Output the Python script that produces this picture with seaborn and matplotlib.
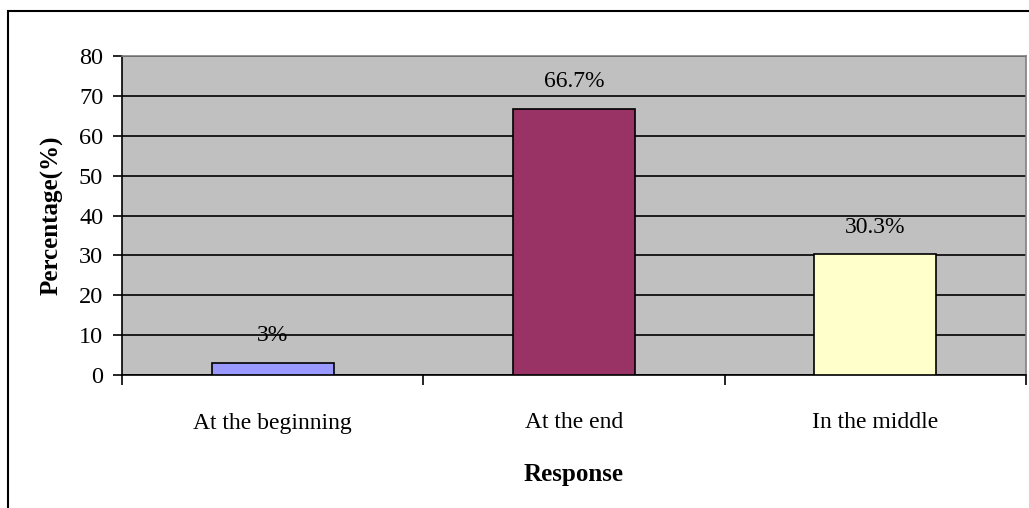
import matplotlib.pyplot as plt
import matplotlib.patches as mpatches
import pandas as pd
import seaborn as sns

categories = ["At the beginning", "At the end", "In the middle"]
percentages = [3.0, 66.7, 30.3]
value_labels = ["3%", "66.7%", "30.3%"]
bar_colors = ["#9999FF", "#993366", "#FFFFCC"]

df = pd.DataFrame({"Response": categories, "Percentage": percentages})

sns.set_theme(style="white", rc={
    "text.color": "black",
    "axes.labelcolor": "black",
    "xtick.color": "black",
    "ytick.color": "black",
})
plt.rcParams["font.family"] = ["Liberation Serif", "DejaVu Serif"]

fig = plt.figure(figsize=(10.29, 5.08), dpi=100)
ax = fig.add_axes([122 / 1029, 1 - 375 / 508, (1026 - 122) / 1029, (375 - 56) / 508])

sns.barplot(
    data=df,
    x="Response",
    y="Percentage",
    hue="Response",
    palette=bar_colors,
    saturation=1,
    width=0.405,
    edgecolor="black",
    linewidth=1.2,
    legend=False,
    ax=ax,
    zorder=3,
)

ax.set_facecolor("#C0C0C0")
ax.set_ylim(0, 80)
ax.set_xlim(-0.5, 2.5)
ax.set_yticks(range(0, 81, 10))
ax.yaxis.grid(True, color="black", linewidth=1.2, zorder=0)
ax.set_axisbelow(True)

for spine in ["top", "right"]:
    ax.spines[spine].set_color("#808080")
    ax.spines[spine].set_linewidth(1.2)
for spine in ["left", "bottom"]:
    ax.spines[spine].set_color("black")
    ax.spines[spine].set_linewidth(1.2)

# category ticks sit on the boundaries, labels in the centre
ax.set_xticks([-0.5, 0.5, 1.5, 2.5])
ax.set_xticklabels([])
ax.set_xticks([0, 1, 2], minor=True)
ax.set_xticklabels(categories, minor=True, fontsize=17)
ax.tick_params(axis="x", which="major", direction="out", length=7, width=1.2, color="black", bottom=True)
ax.tick_params(axis="x", which="minor", length=0, pad=27)
ax.tick_params(axis="y", direction="out", length=6.5, width=1.2, color="black", left=True, labelsize=17.5, pad=7)

for i, (v, lab) in enumerate(zip(percentages, value_labels)):
    ax.annotate(lab, (i, v), xytext=(0, 12), textcoords="offset points",
                ha="center", va="bottom", fontsize=17, color="black")

ax.set_xlabel("Response", fontsize=18, fontweight="bold", labelpad=21)
ax.set_ylabel("Percentage(%)", fontsize=18, fontweight="bold", labelpad=11)

# outer chart frame
fig.patches.append(mpatches.Rectangle((8 / 1029, -0.05), 1.1, 1 - 11 / 508 + 0.05,
                                      transform=fig.transFigure, fill=False,
                                      edgecolor="black", linewidth=1.5))

fig.savefig("out.png", dpi=100)
